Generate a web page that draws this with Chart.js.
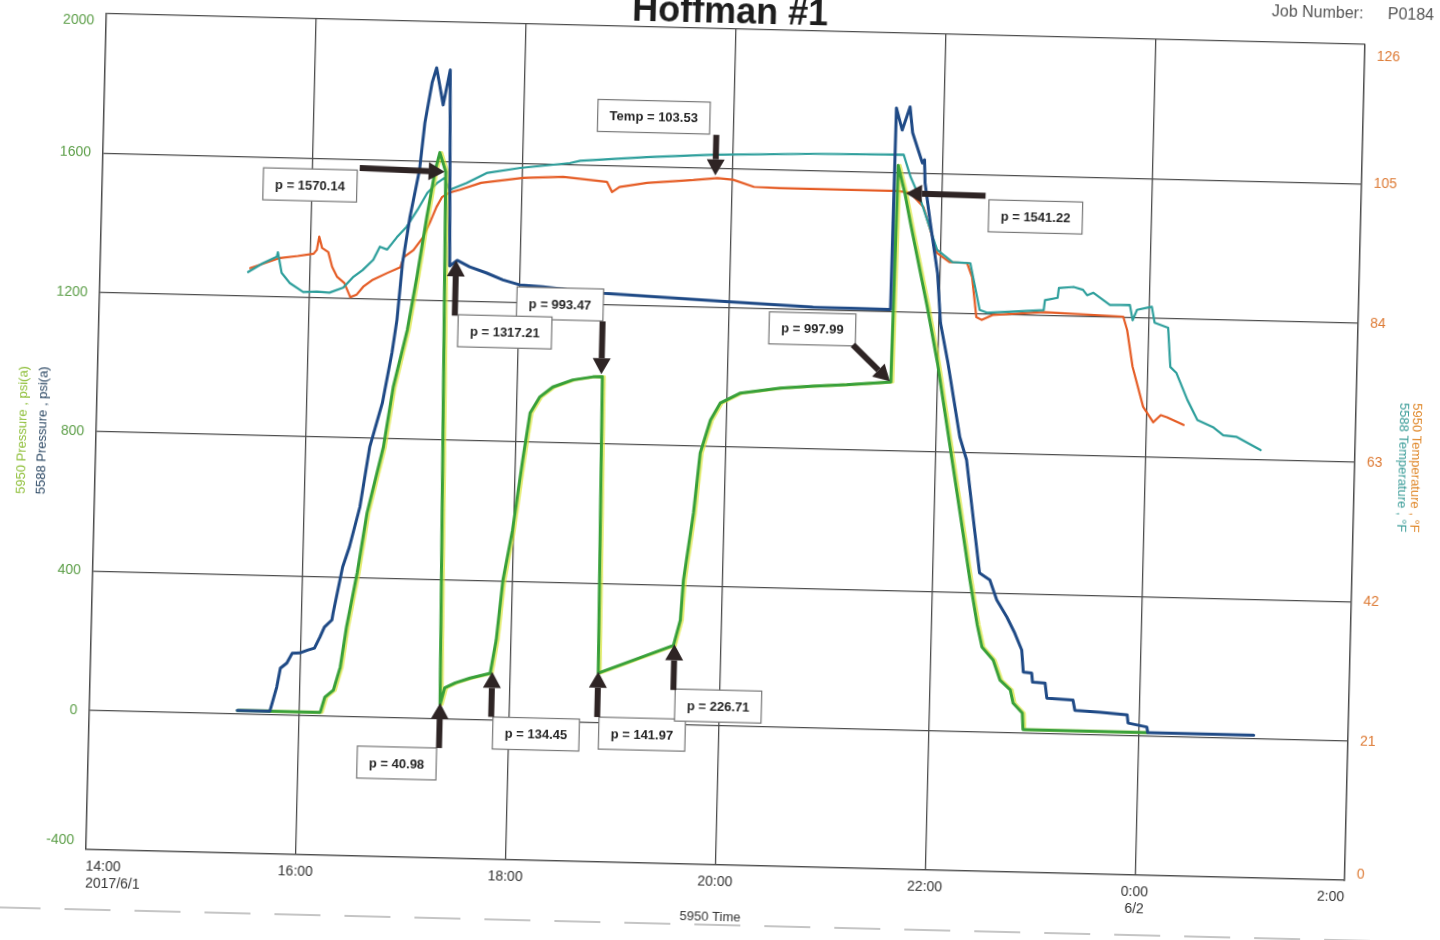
<!DOCTYPE html>
<html>
<head>
<meta charset="utf-8">
<title>Hoffman #1</title>
<script src="https://cdn.jsdelivr.net/npm/chart.js@4.4.1/dist/chart.umd.min.js"></script>
<style>
  html, body { margin: 0; padding: 0; background: #fff; overflow: hidden; width: 1440px; height: 940px; }
  /* the scanned sheet sits slightly crooked, so the whole chart is turned a little */
  #wrap { position: absolute; left: -40px; top: -40px; width: 1520px; height: 1020px;
          transform: rotate(1.4deg); transform-origin: 765px 487px; }
</style>
</head>
<body>
<div id="wrap"><canvas id="chart" width="1520" height="1020"></canvas></div>
<script>
// x values are hours counted from midnight of 2017/6/1 (24 = 0:00 on 6/2)
const xTickHours = [14, 16, 18, 20, 22, 24, 26];
const xTickLabels = [['14:00', '2017/6/1'], '16:00', '18:00', '20:00', '22:00', ['0:00', '6/2'], '2:00'];
const pressureTicks = [-400, 0, 400, 800, 1200, 1600, 2000];
const tempTicks = [0, 21, 42, 63, 84, 105, 126];

// 5588 pressure, psi(a)
const p5588Time = [15.41, 15.72, 15.74, 15.78, 15.81, 15.87, 15.92, 15.99, 16.07, 16.13, 16.18, 16.22, 16.29, 16.30,
  16.38, 16.44, 16.53, 16.61, 16.72, 16.80, 16.84, 16.88, 16.94, 17.02, 17.06, 17.12, 17.16, 17.23, 17.29, 17.33,
  17.40, 17.52, 17.68, 17.84, 18.00, 18.22, 18.48, 18.80, 20.01, 20.80, 21.54, 21.55, 21.61, 21.68, 21.71, 21.81,
  21.83, 21.84, 21.90, 21.98, 22.02, 22.10, 22.23, 22.30, 22.37, 22.45, 22.55, 22.62, 22.72, 22.80, 22.87, 22.89,
  22.97, 22.98, 23.10, 23.12, 23.37, 23.39, 23.63, 23.89, 23.90, 24.08, 24.09, 25.10];
const p5588 = [10, 10, 33, 80, 134, 149, 178, 179, 188, 194, 226, 255, 276, 296,
  429, 487, 602, 775, 902, 1047, 1142, 1306, 1438, 1574, 1709, 1825, 1868, 1762, 1863, 1300,
  1317, 1299, 1283, 1264, 1251, 1247, 1240, 1233, 1217, 1208, 1206, 1785, 1722, 1789, 1715, 1629,
  1638, 1572, 1457, 1314, 1171, 1057, 845, 780, 628, 456, 437, 380, 332, 286, 238, 175,
  173, 147, 145, 102, 98, 69, 65, 59, 36, 26, 10, 10];

// 5950 pressure, psi(a)
const p5950Time = [15.41, 16.20, 16.24, 16.32, 16.38, 16.43, 16.52, 16.60, 16.74, 16.82, 16.94, 17.02, 17.10, 17.17,
  17.21, 17.27, 17.34, 17.38, 17.48, 17.62, 17.81, 17.86, 17.91, 17.99, 18.07, 18.13, 18.22, 18.34, 18.53, 18.72,
  18.81, 18.84, 19.55, 19.61, 19.63, 19.71, 19.76, 19.85, 19.94, 20.13, 20.51, 20.82, 21.14, 21.56, 21.58, 21.65,
  21.71, 21.89, 22.00, 22.25, 22.36, 22.44, 22.49, 22.60, 22.67, 22.77, 22.80, 22.89, 22.90, 24.08];
const p5950 = [10, 10, 54, 75, 141, 256, 414, 586, 776, 949, 1113, 1267, 1439, 1575,
  1625, 1570, 41, 89, 104, 119, 134, 230, 402, 547, 748, 884, 931, 960, 982, 992,
  993, 142, 227, 300, 415, 608, 781, 876, 926, 956, 973, 981, 987, 998, 1620, 1541,
  1456, 1216, 1056, 627, 435, 307, 244, 207, 150, 123, 85, 57, 10, 10];

// 5588 temperature, °F
const t5588Time = [15.41, 15.55, 15.68, 15.69, 15.73, 15.81, 15.94, 16.07, 16.19, 16.32, 16.41, 16.50, 16.60, 16.66,
  16.73, 16.82, 16.91, 17.01, 17.10, 17.19, 17.26, 17.31, 17.47, 17.66, 17.98, 18.45, 18.55, 19.18, 19.81, 20.77,
  21.63, 21.70, 21.80, 21.97, 22.12, 22.29, 22.39, 22.46, 23.00, 23.01, 23.13, 23.14, 23.28, 23.37, 23.41, 23.47,
  23.63, 23.82, 23.85, 23.89, 24.03, 24.06, 24.19, 24.22, 24.28, 24.39, 24.49, 24.64, 24.74, 24.87, 25.10];
const t5588 = [87.6, 89.0, 90.0, 90.7, 87.6, 86.1, 84.8, 84.9, 84.8, 85.6, 87.2, 88.3, 89.9, 91.9,
  91.5, 93.4, 95.0, 97.6, 100.2, 101.7, 102.5, 100.7, 101.8, 103.4, 104.3, 105.2, 105.6, 106.4, 107.0, 107.5,
  107.7, 104.4, 101.0, 93.5, 91.7, 91.6, 84.6, 84.2, 84.8, 86.3, 86.7, 88.2, 88.4, 88.0, 87.2, 87.6,
  85.8, 85.9, 83.6, 85.2, 85.7, 83.3, 82.6, 76.7, 75.8, 71.8, 68.8, 67.8, 66.6, 66.4, 64.5];

// 5950 temperature, °F
const t5950Time = [15.43, 15.70, 15.88, 16.03, 16.06, 16.08, 16.11, 16.17, 16.21, 16.26, 16.33, 16.39, 16.45, 16.51,
  16.60, 16.74, 16.86, 16.89, 16.98, 17.07, 17.13, 17.19, 17.24, 17.31, 17.41, 17.61, 18.01, 18.39, 18.81, 18.86,
  18.93, 19.19, 19.63, 19.86, 20.01, 20.21, 20.46, 20.77, 21.10, 21.58, 21.70, 21.83, 21.90, 21.97, 22.09, 22.26,
  22.31, 22.36, 22.41, 22.52, 23.00, 23.76, 23.80, 23.86, 23.97, 24.07, 24.14, 24.20, 24.36];
const t5950 = [88.2, 89.8, 90.2, 90.6, 91.2, 93.2, 91.5, 90.9, 88.7, 87.2, 86.3, 84.2, 84.6, 85.8,
  86.9, 88.0, 88.9, 90.4, 91.5, 93.5, 95.7, 98.1, 99.6, 100.3, 100.8, 101.9, 102.8, 103.1, 102.5, 101.0,
  101.8, 102.5, 103.1, 103.5, 103.3, 102.3, 102.2, 102.2, 102.2, 102.2, 102.0, 99.9, 96.5, 93.0, 91.7, 91.6,
  89.5, 83.5, 83.1, 83.9, 84.5, 84.1, 82.1, 76.6, 70.6, 68.3, 69.4, 69.1, 68.0];

// callout boxes with arrows: [hour, value] on the named axis
const callouts = [
  { label: 'p = 1570.14', axis: 'y', box: [15.98, 1523], tail: [16.45, 1575], tip: [17.26, 1570] },
  { label: 'p = 993.47', axis: 'y', box: [18.39, 1199], tail: [18.80, 1152], tip: [18.80, 1000] },
  { label: 'p = 1317.21', axis: 'y', box: [17.87, 1115], tail: [17.39, 1158], tip: [17.39, 1317] },
  { label: 'Temp = 103.53', axis: 'y1', box: [19.24, 112.5], tail: [19.84, 110.0], tip: [19.84, 103.9] },
  { label: 'p = 997.99', axis: 'y', box: [20.80, 1145], tail: [21.19, 1102], tip: [21.55, 1000] },
  { label: 'p = 1541.22', axis: 'y', box: [22.90, 1482], tail: [22.42, 1539], tip: [21.66, 1541] },
  { label: 'p = 40.98', axis: 'y', box: [16.94, -130], tail: [17.34, -84], tip: [17.34, 45] },
  { label: 'p = 134.45', axis: 'y', box: [18.26, -37], tail: [17.83, 9], tip: [17.83, 138] },
  { label: 'p = 141.97', axis: 'y', box: [19.27, -30], tail: [18.84, 16], tip: [18.84, 146] },
  { label: 'p = 226.71', axis: 'y', box: [19.99, 56], tail: [19.56, 99], tip: [19.56, 230] }
];

const toPoints = (xs, ys) => xs.map((x, i) => ({ x: x, y: ys[i] }));

const FONT = '"Liberation Sans", Arial, sans-serif';
Chart.defaults.font.family = FONT;

function drawArrow(ctx, x1, y1, x2, y2) {
  const ang = Math.atan2(y2 - y1, x2 - x1);
  const head = 16, half = 9;
  const bx = x2 - head * Math.cos(ang);
  const by = y2 - head * Math.sin(ang);
  ctx.strokeStyle = '#2e2424';
  ctx.fillStyle = '#2e2424';
  ctx.lineWidth = 6;
  ctx.beginPath();
  ctx.moveTo(x1, y1);
  ctx.lineTo(bx, by);
  ctx.stroke();
  ctx.beginPath();
  ctx.moveTo(x2, y2);
  ctx.lineTo(bx + half * Math.sin(ang), by - half * Math.cos(ang));
  ctx.lineTo(bx - half * Math.sin(ang), by + half * Math.cos(ang));
  ctx.closePath();
  ctx.fill();
}

// yellow fringe that the scan put beside the green trace
const fringe = {
  id: 'fringe',
  beforeDatasetDraw(chart, args) {
    if (args.index !== 1) return;
    chart.ctx.save();
    chart.ctx.shadowColor = 'rgba(214,226,40,0.65)';
    chart.ctx.shadowOffsetX = 2;
  },
  afterDatasetDraw(chart, args) {
    if (args.index !== 1) return;
    chart.ctx.restore();
  }
};

const calloutPlugin = {
  id: 'callouts',
  afterDatasetsDraw(chart) {
    const { ctx, scales } = chart;
    const xs = scales.x;
    ctx.save();
    ctx.font = 'bold 13px ' + FONT;
    callouts.forEach(c => {
      const ys = scales[c.axis];
      const w = ctx.measureText(c.label).width + 24, h = 32;
      const cx = xs.getPixelForValue(c.box[0]), cy = ys.getPixelForValue(c.box[1]);
      ctx.fillStyle = '#fff';
      ctx.fillRect(cx - w / 2, cy - h / 2, w, h);
      ctx.strokeStyle = '#777';
      ctx.lineWidth = 1.2;
      ctx.strokeRect(cx - w / 2, cy - h / 2, w, h);
      ctx.fillStyle = '#262626';
      ctx.textAlign = 'center';
      ctx.textBaseline = 'middle';
      ctx.fillText(c.label, cx, cy + 1);
      drawArrow(ctx,
        xs.getPixelForValue(c.tail[0]), ys.getPixelForValue(c.tail[1]),
        xs.getPixelForValue(c.tip[0]), ys.getPixelForValue(c.tip[1]));
    });
    ctx.restore();
  }
};

const axisText = {
  id: 'axisText',
  afterDraw(chart) {
    const { ctx, chartArea: a, scales } = chart;
    ctx.save();

    // value labels on both vertical axes, end labels pulled inside
    ctx.font = '14px ' + FONT;
    ctx.textBaseline = 'middle';
    ctx.textAlign = 'right';
    ctx.fillStyle = '#5c9e48';
    pressureTicks.forEach((v, i) => {
      let y = scales.y.getPixelForValue(v);
      if (i === 0) y -= 9;
      if (i === pressureTicks.length - 1) y += 7;
      ctx.fillText(String(v), a.left - 12, y);
    });
    ctx.textAlign = 'left';
    ctx.fillStyle = '#dd7a34';
    tempTicks.forEach((v, i) => {
      let y = scales.y1.getPixelForValue(v);
      if (i === 0) y -= 6;
      if (i === tempTicks.length - 1) y += 12;
      ctx.fillText(String(v), a.right + 12, y);
    });

    const midY = (a.top + a.bottom) / 2;
    ctx.font = '13px ' + FONT;
    ctx.textAlign = 'center';
    // left axis titles
    ctx.save();
    ctx.translate(a.left - 74, midY);
    ctx.rotate(-Math.PI / 2);
    ctx.fillStyle = '#8fbf3a';
    ctx.fillText('5950 Pressure , psi(a)', 0, 0);
    ctx.restore();
    ctx.save();
    ctx.translate(a.left - 54, midY);
    ctx.rotate(-Math.PI / 2);
    ctx.fillStyle = '#2e4a66';
    ctx.fillText('5588 Pressure , psi(a)', 0, 0);
    ctx.restore();
    // right axis titles
    ctx.save();
    ctx.translate(a.right + 61, midY + 4);
    ctx.rotate(Math.PI / 2);
    ctx.fillStyle = '#e08a2e';
    ctx.fillText('5950 Temperature , °F', 0, 0);
    ctx.restore();
    ctx.save();
    ctx.translate(a.right + 48, midY + 4);
    ctx.rotate(Math.PI / 2);
    ctx.fillStyle = '#3a9c98';
    ctx.fillText('5588 Temperature , °F', 0, 0);
    ctx.restore();

    // time axis title and the faint scan line beneath it
    ctx.fillStyle = '#333';
    ctx.fillText('5950 Time', (a.left + a.right) / 2 - 4, a.bottom + 52);
    ctx.strokeStyle = 'rgba(110,110,110,0.4)';
    ctx.lineWidth = 2;
    ctx.setLineDash([46, 24]);
    ctx.beginPath();
    ctx.moveTo(a.left - 90, a.bottom + 60);
    ctx.lineTo(a.right + 110, a.bottom + 60);
    ctx.stroke();
    ctx.setLineDash([]);

    // heading
    ctx.fillStyle = '#1e1e1e';
    ctx.font = 'bold 36px ' + FONT;
    ctx.textBaseline = 'alphabetic';
    ctx.fillText('Hoffman #1', (a.left + a.right) / 2 - 6, a.top - 6);
    ctx.fillStyle = '#555';
    ctx.font = '16px ' + FONT;
    ctx.textAlign = 'left';
    ctx.textBaseline = 'middle';
    ctx.fillText('Job Number:', a.right - 94, a.top - 30);
    ctx.fillText('P0184', a.right + 22, a.top - 30);

    ctx.restore();
  }
};

const gridColor = '#4d4d4d';

new Chart(document.getElementById('chart'), {
  type: 'line',
  data: {
    datasets: [
      { label: '5588 Pressure', data: toPoints(p5588Time, p5588), yAxisID: 'y',
        borderColor: '#1f4a86', borderWidth: 3 },
      { label: '5950 Pressure', data: toPoints(p5950Time, p5950), yAxisID: 'y',
        borderColor: '#38a03a', borderWidth: 3 },
      { label: '5588 Temperature', data: toPoints(t5588Time, t5588), yAxisID: 'y1',
        borderColor: '#2e9f9c', borderWidth: 2.2 },
      { label: '5950 Temperature', data: toPoints(t5950Time, t5950), yAxisID: 'y1',
        borderColor: '#e55d26', borderWidth: 2.2 }
    ]
  },
  options: {
    responsive: false,
    animation: false,
    layout: { padding: { left: 60, right: 60, top: 69, bottom: 55 } },
    elements: {
      point: { radius: 0 },
      line: { tension: 0, borderJoinStyle: 'round', borderCapStyle: 'round' }
    },
    plugins: {
      legend: { display: false },
      tooltip: { enabled: false }
    },
    scales: {
      x: {
        type: 'linear',
        min: 14,
        max: 26,
        afterFit: (scale) => { scale.height = 60; },
        afterBuildTicks: (scale) => { scale.ticks = xTickHours.map(v => ({ value: v })); },
        grid: { color: gridColor, lineWidth: 1.3, drawTicks: false },
        border: { display: true, color: gridColor, width: 1.3 },
        ticks: {
          align: 'inner',
          padding: 9,
          maxRotation: 0,
          color: '#333',
          font: { size: 14 },
          callback: (v, i) => xTickLabels[i]
        }
      },
      y: {
        position: 'left',
        min: -400,
        max: 2000,
        afterFit: (scale) => { scale.width = 76; },
        afterBuildTicks: (scale) => { scale.ticks = pressureTicks.map(v => ({ value: v })); },
        grid: { color: gridColor, lineWidth: 1.3, drawTicks: false },
        border: { display: true, color: gridColor, width: 1.3 },
        ticks: { display: false }
      },
      y1: {
        position: 'right',
        min: 0,
        max: 126,
        afterFit: (scale) => { scale.width = 65; },
        afterBuildTicks: (scale) => { scale.ticks = tempTicks.map(v => ({ value: v })); },
        grid: { drawOnChartArea: false, drawTicks: false },
        border: { display: true, color: gridColor, width: 1.3 },
        ticks: { display: false }
      }
    }
  },
  plugins: [fringe, calloutPlugin, axisText]
});
</script>
</body>
</html>
